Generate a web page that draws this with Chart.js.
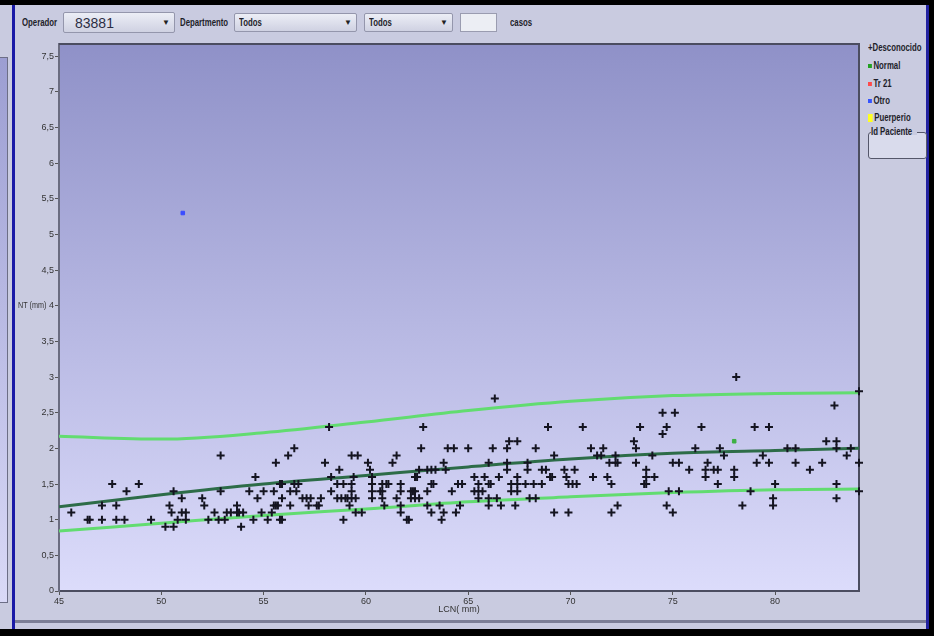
<!DOCTYPE html>
<html>
<head>
<meta charset="utf-8">
<script src="https://cdn.jsdelivr.net/npm/chart.js@4.4.1/dist/chart.umd.min.js"></script>
<style>
  html, body { margin: 0; padding: 0; }
  body {
    width: 934px; height: 636px; background: #000; position: relative; overflow: hidden;
    font-family: "Liberation Sans", sans-serif;
  }
  .abs { position: absolute; }
  #frame { left: 0; top: 5px; width: 929px; height: 624px; background: #c9cbe0; }
  #leftbox { left: -1px; top: 57px; width: 7px; height: 544px; border: 1px solid #6c6e86;
    background: linear-gradient(#9c9ed2, #d9d9f7); }
  #blueline { left: 12px; top: 5px; width: 3px; height: 624px; background: #1a1aa6; }
  #rightline { left: 926px; top: 5px; width: 3px; height: 624px; background: #2222a0; }
  #bottomline { left: 15px; top: 620px; width: 911px; height: 3px; background: #7c7e96; }
  .lbl { font-weight: bold; font-size: 10px; color: #1e1e2a; line-height: 12px; white-space: nowrap;
    transform: scaleX(0.78); transform-origin: 0 50%; }
  .combo { height: 19px; border: 1px solid #9496ac; border-radius: 2px;
    background: linear-gradient(#eceef6, #cfd1e2); box-sizing: border-box; }
  .combo span { position: absolute; left: 4px; top: 3px; }
  .combo i { position: absolute; right: 4px; top: 4px; font-style: normal; font-size: 8px; color: #222; }
  #legend div { position: absolute; left: 0; }
  #legend b { display: inline-block; width: 5px; height: 4px; margin-right: 2px; vertical-align: 1px; }
  #idbox { left: 868px; top: 132px; width: 57px; height: 25px; border: 1px solid #55576a; border-radius: 3px;
    background: #d9dbec; }
  #idbox span { position: absolute; left: 2px; top: -7px; }
  #idbox em { position: absolute; left: 2px; top: -2px; width: 46px; height: 4px; background: #c9cbe0; }
  #wrap { left: 15px; top: 36px; width: 850px; height: 586px; }
</style>
</head>
<body>
<div id="frame" class="abs"></div>
<div id="leftbox" class="abs"></div>
<div id="blueline" class="abs"></div>
<div id="rightline" class="abs"></div>
<div id="bottomline" class="abs"></div>

<div class="abs lbl" style="left:22px; top:17px;">Operador</div>
<div class="abs combo" style="left:63px; top:12px; width:112px; height:21px;">
  <span style="font-size:14px; top:2px; left:11px; color:#2c2e44;">83881</span><i style="top:5px;">&#9660;</i>
</div>
<div class="abs lbl" style="left:180px; top:17px;">Departmento</div>
<div class="abs combo" style="left:234px; top:13px; width:123px;"><span class="lbl">Todos</span><i>&#9660;</i></div>
<div class="abs combo" style="left:364px; top:13px; width:89px;"><span class="lbl">Todos</span><i>&#9660;</i></div>
<div class="abs" style="left:460px; top:13px; width:37px; height:19px; border:1px solid #9a9cb0; background:#eceef4; box-sizing:border-box;"></div>
<div class="abs lbl" style="left:510px; top:17px;">casos</div>

<div id="legend" class="abs" style="left:868px; top:0;">
  <div class="lbl" style="top:42px;">+Desconocido</div>
  <div class="lbl" style="top:60px;"><b style="background:#22a022;"></b>Normal</div>
  <div class="lbl" style="top:78px;"><b style="background:#ff4a4a;"></b>Tr 21</div>
  <div class="lbl" style="top:95px;"><b style="background:#3454ff;"></b>Otro</div>
  <div class="lbl" style="top:112px;"><b style="background:#ffff22; height:8px; width:6px; vertical-align:-1px;"></b>Puerperio</div>
</div>
<div id="idbox" class="abs"><em></em><span class="lbl">Id Paciente</span></div>

<div id="wrap" class="abs"><canvas id="ntChart" width="850" height="586"></canvas></div>

<script>
const xTicks = [45, 50, 55, 60, 65, 70, 75, 80];
const yTicks = [0, 0.5, 1, 1.5, 2, 2.5, 3, 3.5, 4, 4.5, 5, 5.5, 6, 6.5, 7, 7.5];

// reference curves
const curveLCN = [45, 50, 55, 60, 65, 70, 75, 80, 84.1];
const upperNT = [2.17, 2.13, 2.22, 2.37, 2.53, 2.66, 2.74, 2.77, 2.78];
const medianNT = [1.18, 1.35, 1.5, 1.62, 1.74, 1.85, 1.93, 1.97, 2.0];
const lowerNT = [0.84, 0.95, 1.06, 1.15, 1.25, 1.32, 1.38, 1.42, 1.43];

// patients
const desconocidoLCN = [
  45.6, 46.4, 46.5, 47.1, 47.1, 47.6, 47.8, 47.8, 48.2, 48.3, 48.9, 49.5, 50.2, 50.6, 50.4, 50.5,
  50.6, 50.8, 51.0, 51.0, 51.2, 51.2, 52.0, 52.1, 52.3, 52.6, 52.8, 52.9, 52.9, 53.1, 53.2, 53.4,
  53.7, 53.7, 53.8, 54.0, 53.9, 54.3, 54.5, 54.6, 54.7, 54.9, 55.0, 55.2, 55.4, 55.5, 55.6, 55.7,
  55.5, 55.6, 55.8, 55.9, 55.8, 55.9, 55.9, 56.2, 56.3, 56.3, 56.5, 56.5, 56.7, 56.6, 56.9, 57.1,
  57.3, 57.2, 57.6, 57.7, 57.8, 58.0, 58.2, 58.3, 58.6, 58.9, 58.7, 58.6, 58.8, 59.0, 59.1, 59.3,
  59.5, 58.3, 58.9, 59.2, 59.3, 59.6, 59.3, 59.4, 59.3, 59.5,
  59.8, 60.1, 60.2, 60.3, 60.3, 60.3, 60.3, 60.7, 60.8, 60.8, 61.0, 61.1, 60.8, 60.9, 61.3, 61.5,
  61.5, 61.7, 61.7, 61.7, 61.7, 62.0, 62.1, 62.2, 62.3, 62.4, 62.2, 62.4, 62.6, 62.4, 62.5, 62.6,
  62.7, 62.8, 63.0, 63.2, 63.0, 63.0, 63.2, 63.3, 63.2, 63.4, 63.6, 63.8, 63.7, 63.9, 64.0, 64.3,
  63.8, 64.2, 64.4, 64.5, 64.7, 64.6, 65.0, 65.3, 65.8, 65.3, 65.5, 65.7, 65.5, 65.5, 66.0, 66.0,
  66.1, 66.0, 66.0, 66.2, 66.3, 66.4, 66.5, 66.6, 66.9, 66.9, 66.9, 67.0, 67.4, 67.1, 67.4, 67.4,
  67.4, 67.1, 67.3, 67.8, 68.2, 68.6, 67.9, 67.9, 68.0, 68.3, 68.3, 68.6, 68.8, 68.9, 69.0, 69.1,
  69.2, 69.2, 69.7, 69.8, 69.9, 70.1, 70.3, 69.9, 70.2, 70.6, 71.0, 71.1, 71.3, 71.5, 71.6, 71.8,
  71.9, 72.2, 72.2, 72.3, 72.0, 72.0, 72.3, 73.1, 73.2, 73.2, 73.4, 73.6, 73.7, 73.7, 73.7, 74.1,
  74.0, 74.5, 74.7, 74.5, 75.1, 74.7, 74.8, 75.0, 75.0, 75.3, 75.3, 75.8, 76.1, 76.4, 76.6, 76.6,
  76.7, 77.0, 77.2, 77.2, 77.3, 77.5, 78.0, 78.0, 78.1, 78.4, 78.8, 79.0, 79.1, 79.4, 79.7, 79.7,
  79.9, 79.9, 80.0, 80.6, 81.0, 81.0, 81.7, 82.3, 82.5, 82.9, 83.0, 83.0, 83.0, 83.0, 83.5, 83.7,
  84.1, 84.1, 84.1
];
const desconocidoNT = [
  1.1, 1.0, 1.0, 1.0, 1.2, 1.5, 1.2, 1.0, 1.0, 1.4, 1.5, 1.0, 0.9, 0.9, 1.2, 1.1,
  1.4, 1.0, 1.3, 1.1, 1.1, 1.0, 1.3, 1.2, 1.0, 1.1, 1.0, 1.9, 1.4, 1.0, 1.1, 1.1,
  1.2, 1.1, 1.1, 1.1, 0.9, 1.4, 1.0, 1.6, 1.3, 1.1, 1.4, 1.0, 1.1, 1.2, 1.2, 1.2,
  1.4, 1.8, 1.0, 1.0, 1.5, 1.5, 1.3, 1.9, 1.4, 1.2, 2.0, 1.5, 1.5, 1.4, 1.3, 1.3,
  1.3, 1.2, 1.2, 1.2, 1.3, 1.8, 2.3, 1.6, 1.5, 1.5, 1.7, 1.3, 1.3, 1.3, 1.3, 1.3,
  1.3, 1.4, 1.0, 1.2, 1.9, 1.9, 1.5, 1.6, 1.4, 1.1,
  1.1, 1.8, 1.7, 1.6, 1.5, 1.4, 1.3, 1.4, 1.4, 1.5, 1.5, 1.5, 1.3, 1.2, 1.8, 1.9,
  1.3, 1.5, 1.4, 1.2, 1.1, 1.0, 1.0, 1.4, 1.4, 1.4, 1.3, 1.3, 1.3, 1.6, 1.6, 1.7,
  2.0, 2.3, 1.7, 1.7, 1.4, 1.2, 1.5, 1.5, 1.1, 1.7, 1.2, 1.1, 1.0, 1.7, 2.0, 2.0,
  1.8, 1.4, 1.1, 1.5, 1.5, 1.2, 2.0, 1.6, 1.6, 1.4, 1.4, 1.4, 1.3, 1.5, 1.8, 1.5,
  1.5, 1.3, 1.2, 2.0, 2.7, 1.3, 1.6, 1.2, 2.0, 1.8, 1.7, 2.1, 2.1, 1.5, 1.5, 1.6,
  1.4, 1.4, 1.2, 1.5, 1.5, 1.5, 1.8, 1.7, 1.3, 1.3, 2.0, 1.7, 1.7, 2.3, 1.6, 1.6,
  1.9, 1.1, 1.7, 1.6, 1.5, 1.5, 1.5, 1.1, 1.7, 2.3, 2.0, 1.6, 1.9, 1.9, 2.0, 1.6,
  1.8, 1.9, 1.8, 1.8, 1.5, 1.1, 1.2, 2.1, 2.0, 1.8, 2.3, 1.5, 1.5, 1.7, 1.6, 1.6,
  1.9, 2.5, 2.3, 2.2, 2.5, 1.2, 1.4, 1.1, 1.8, 1.8, 1.4, 1.7, 2.0, 2.3, 1.7, 1.6,
  1.8, 1.7, 1.7, 1.5, 2.0, 1.9, 1.7, 1.6, 3.0, 1.2, 1.4, 2.3, 1.8, 1.9, 2.3, 1.8,
  1.3, 1.2, 1.5, 2.0, 2.0, 1.8, 1.7, 1.8, 2.1, 2.6, 2.1, 2.0, 1.5, 1.3, 1.9, 2.0,
  2.8, 1.8, 1.4
];
const normalLCN = [78.0];
const normalNT = [2.1];
const otroLCN = [51.05];
const otroNT = [5.3];

const toPoints = (xs, ys) => xs.map((x, i) => ({ x: x, y: ys[i] }));
const fam = "'Liberation Sans', sans-serif";

const plotFrame = {
  id: "plotFrame",
  beforeDraw(chart) {
    const { ctx, chartArea: a } = chart;
    const g = ctx.createLinearGradient(0, a.top, 0, a.bottom);
    g.addColorStop(0, "#8f91c8");
    g.addColorStop(1, "#dcdcfb");
    ctx.save();
    ctx.fillStyle = g;
    ctx.fillRect(a.left, a.top, a.right - a.left, a.bottom - a.top);
    ctx.restore();
  },
  beforeDatasetsDraw(chart) {
    const { ctx, chartArea: a } = chart;
    ctx.save();
    ctx.strokeStyle = "#4b4d60";
    ctx.lineWidth = 2;
    ctx.beginPath();
    ctx.moveTo(a.left, a.top);
    ctx.lineTo(a.right, a.top);
    ctx.lineTo(a.right, a.bottom);
    ctx.stroke();
    ctx.restore();
  },
  afterDraw(chart) {
    // horizontal y title, condensed
    const ctx = chart.ctx;
    ctx.save();
    ctx.fillStyle = "#333";
    ctx.font = "9px " + fam;
    ctx.textBaseline = "middle";
    ctx.translate(3, chart.scales.y.getPixelForValue(4));
    ctx.scale(0.8, 1);
    ctx.fillText("NT (mm)", 0, 0);
    ctx.restore();
  },
};

const ntChart = new Chart(document.querySelector("#ntChart").getContext("2d"), {
  type: "scatter",
  data: {
    datasets: [
      {
        label: "Desconocido",
        data: toPoints(desconocidoLCN, desconocidoNT),
        pointStyle: "cross",
        pointRadius: 4,
        pointBorderWidth: 2,
        borderColor: "#141420",
        clip: false,
        order: 0,
      },
      {
        label: "Normal",
        data: toPoints(normalLCN, normalNT),
        pointStyle: "rect",
        pointRadius: 2.5,
        backgroundColor: "#3cb043",
        borderColor: "#3cb043",
        order: 0,
      },
      {
        label: "Otro",
        data: toPoints(otroLCN, otroNT),
        pointStyle: "rect",
        pointRadius: 2.5,
        backgroundColor: "#3a4cff",
        borderColor: "#3a4cff",
        order: 0,
      },
      {
        type: "line",
        label: "upper",
        data: toPoints(curveLCN, upperNT),
        borderColor: "#62dc70",
        borderWidth: 3,
        pointRadius: 0,
        cubicInterpolationMode: "monotone",
        order: 1,
      },
      {
        type: "line",
        label: "median",
        data: toPoints(curveLCN, medianNT),
        borderColor: "#2d6c48",
        borderWidth: 3,
        pointRadius: 0,
        cubicInterpolationMode: "monotone",
        order: 1,
      },
      {
        type: "line",
        label: "lower",
        data: toPoints(curveLCN, lowerNT),
        borderColor: "#62dc70",
        borderWidth: 3,
        pointRadius: 0,
        cubicInterpolationMode: "monotone",
        order: 1,
      },
    ],
  },
  options: {
    responsive: false,
    animation: false,
    events: [],
    layout: {
      padding: { top: 8, right: 3, left: 0, bottom: 0 },
    },
    plugins: {
      legend: { display: false },
      tooltip: { enabled: false },
    },
    scales: {
      x: {
        type: "linear",
        min: 45,
        max: 84.1,
        afterBuildTicks: (scale) => {
          scale.ticks = xTicks.map((v) => ({ value: v }));
        },
        afterFit: (scale) => {
          scale.height = 31;
        },
        grid: { drawOnChartArea: false, drawTicks: true, tickLength: 4, tickColor: "#555" },
        border: { display: true, color: "#4b4d60", width: 2 },
        ticks: { color: "#333", font: { size: 9, family: fam }, padding: 1, maxRotation: 0 },
        title: {
          display: true,
          text: "LCN( mm)",
          color: "#333",
          font: { size: 9, family: fam },
          padding: { top: 0, bottom: 7 },
        },
      },
      y: {
        min: 0,
        max: 7.67,
        afterBuildTicks: (scale) => {
          scale.ticks = yTicks.map((v) => ({ value: v }));
        },
        afterFit: (scale) => {
          scale.width = 44;
        },
        grid: { drawOnChartArea: false, drawTicks: true, tickLength: 4, tickColor: "#555" },
        border: { display: true, color: "#6a6c80", width: 2 },
        ticks: {
          color: "#333",
          font: { size: 9, family: fam },
          padding: 1,
          callback: (v) => String(v).replace(".", ","),
        },
      },
    },
  },
  plugins: [plotFrame],
});
</script>
</body>
</html>
